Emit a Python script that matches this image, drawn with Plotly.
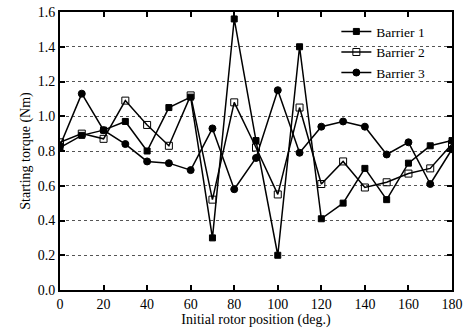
import plotly.graph_objects as go

angles = [0, 10, 20, 30, 40, 50, 60, 70, 80, 90, 100, 110, 120, 130, 140, 150, 160, 170, 180]
barrier1 = [0.82, 0.89, 0.92, 0.97, 0.80, 1.05, 1.11, 0.30, 1.56, 0.86, 0.20, 1.40, 0.41, 0.50, 0.70, 0.52, 0.73, 0.83, 0.86]
barrier2 = [0.85, 0.90, 0.87, 1.09, 0.95, 0.83, 1.12, 0.52, 1.08, 0.82, 0.55, 1.05, 0.61, 0.74, 0.59, 0.62, 0.67, 0.70, 0.84]
barrier3 = [0.83, 1.13, 0.92, 0.84, 0.74, 0.73, 0.69, 0.93, 0.58, 0.76, 1.15, 0.79, 0.94, 0.97, 0.94, 0.78, 0.85, 0.61, 0.81]
series_names = ["Barrier 1", "Barrier 2", "Barrier 3"]
x_ticks = [0, 20, 40, 60, 80, 100, 120, 140, 160, 180]
y_ticks = [0.0, 0.2, 0.4, 0.6, 0.8, 1.0, 1.2, 1.4, 1.6]

FONT = "Liberation Serif, Times New Roman, serif"

fig = go.Figure()
styles = [
    dict(symbol="square", color="black", size=6, line=dict(color="black", width=1)),
    dict(symbol="square-open", color="black", size=7, line=dict(color="black", width=1)),
    dict(symbol="circle", color="black", size=7, line=dict(color="black", width=1)),
]
for name, vals, mk in zip(series_names, [barrier1, barrier2, barrier3], styles):
    fig.add_trace(go.Scatter(
        x=angles, y=vals, name=name, mode="lines+markers",
        line=dict(color="black", width=1.5),
        marker=mk,
    ))

axis_common = dict(
    showline=True, linecolor="black", linewidth=2, mirror="ticks",
    ticks="inside", ticklen=5, tickwidth=2, tickcolor="black",
    zeroline=False, automargin=False,
    tickfont=dict(family=FONT, size=14, color="black"),
)
fig.update_xaxes(
    range=[0, 180], tickvals=x_ticks, showgrid=False,
    title=dict(text="Initial rotor position (deg.)", font=dict(family=FONT, size=14, color="black"), standoff=2),
    **axis_common,
)
fig.update_yaxes(
    range=[0, 1.6], tickvals=y_ticks, tickformat=".1f",
    showgrid=True, gridcolor="#555555", gridwidth=1, griddash="dot",
    title=dict(text="Starting torque (Nm)", font=dict(family=FONT, size=14, color="black"), standoff=4),
    **axis_common,
)
fig.update_layout(
    width=467, height=331,
    margin=dict(l=60, r=15, t=12, b=41),
    paper_bgcolor="white", plot_bgcolor="white",
    showlegend=True,
    legend=dict(
        x=0.705, y=0.985, xanchor="left", yanchor="top",
        bgcolor="rgba(0,0,0,0)", borderwidth=0,
        font=dict(family=FONT, size=13.5, color="black"),
        tracegroupgap=0, itemwidth=30,
    ),
)
fig.write_html("out.html")
